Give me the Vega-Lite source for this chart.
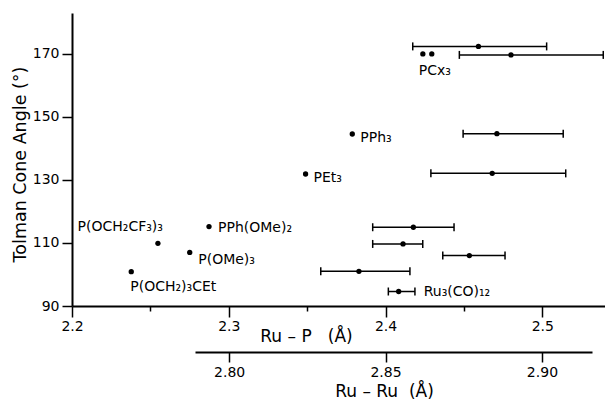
{
  "$schema": "https://vega.github.io/schema/vega-lite/v6.json",
  "width": 533,
  "height": 293,
  "autosize": {"type": "none"},
  "padding": {"left": 72, "top": 13, "right": 0, "bottom": 94},
  "background": "white",
  "config": {
    "view": {"stroke": null},
    "axis": {
      "grid": false,
      "domainColor": "black",
      "domainWidth": 2,
      "tickColor": "black",
      "tickWidth": 1.5,
      "labelColor": "black",
      "titleColor": "black",
      "labelFont": "DejaVu Sans",
      "titleFont": "DejaVu Sans",
      "labelFontSize": 14,
      "titleFontSize": 17,
      "titleFontWeight": "normal"
    },
    "text": {"font": "DejaVu Sans", "fontSize": 14, "color": "black"}
  },
  "datasets": {
    "rup": [
      {"ligand": "PCx3", "label": "PCx₃", "ru_p": 2.4238, "cone_angle": 170},
      {"ligand": "PCx3", "label": "", "ru_p": 2.4295, "cone_angle": 170},
      {"ligand": "PPh3", "label": "PPh₃", "ru_p": 2.3788, "cone_angle": 144.6},
      {"ligand": "PEt3", "label": "PEt₃", "ru_p": 2.349, "cone_angle": 131.9},
      {"ligand": "PPh(OMe)2", "label": "PPh(OMe)₂", "ru_p": 2.2874, "cone_angle": 115.2},
      {"ligand": "P(OCH2CF3)3", "label": "P(OCH₂CF₃)₃", "ru_p": 2.2548, "cone_angle": 109.9},
      {"ligand": "P(OMe)3", "label": "P(OMe)₃", "ru_p": 2.2751, "cone_angle": 107.0},
      {"ligand": "P(OCH2)3CEt", "label": "P(OCH₂)₃CEt", "ru_p": 2.2378, "cone_angle": 100.9}
    ],
    "ruru": [
      {"ligand": "PCx3 (a)", "label": "", "ru_ru": 2.8797, "ru_ru_min": 2.8587, "ru_ru_max": 2.9015, "cone_angle": 172.4},
      {"ligand": "PCx3", "label": "", "ru_ru": 2.8901, "ru_ru_min": 2.8736, "ru_ru_max": 2.9196, "cone_angle": 169.7},
      {"ligand": "PPh3", "label": "", "ru_ru": 2.8856, "ru_ru_min": 2.8748, "ru_ru_max": 2.9068, "cone_angle": 144.7},
      {"ligand": "PEt3", "label": "", "ru_ru": 2.8841, "ru_ru_min": 2.8645, "ru_ru_max": 2.9076, "cone_angle": 132.1},
      {"ligand": "PPh(OMe)2", "label": "", "ru_ru": 2.8589, "ru_ru_min": 2.8459, "ru_ru_max": 2.8719, "cone_angle": 115.0},
      {"ligand": "P(OCH2CF3)3", "label": "", "ru_ru": 2.8556, "ru_ru_min": 2.8459, "ru_ru_max": 2.8619, "cone_angle": 109.7},
      {"ligand": "P(OMe)3", "label": "", "ru_ru": 2.8768, "ru_ru_min": 2.8683, "ru_ru_max": 2.8882, "cone_angle": 106.0},
      {"ligand": "P(OCH2)3CEt", "label": "", "ru_ru": 2.8415, "ru_ru_min": 2.8293, "ru_ru_max": 2.8578, "cone_angle": 101.0},
      {"ligand": "Ru3(CO)12", "label": "Ru₃(CO)₁₂", "ru_ru": 2.8542, "ru_ru_min": 2.8509, "ru_ru_max": 2.8594, "cone_angle": 94.6}
    ]
  },
  "layer": [
    {
      "data": {"name": "rup"},
      "encoding": {
        "x": {
          "field": "ru_p",
          "type": "quantitative",
          "title": "Ru – P\u00a0\u00a0\u00a0(Å)",
          "scale": {"domain": [2.2, 2.54], "nice": false, "zero": false},
          "axis": {
            "values": [2.2, 2.25, 2.3, 2.35, 2.4, 2.45, 2.5],
            "labelExpr": "round(datum.value*100) % 10 == 5 ? '' : format(datum.value, '.1f')",
            "tickSize": {"condition": {"test": "round(datum.value*100) % 10 == 5", "value": 5}, "value": 11},
            "labelPadding": 2,
            "labelFlush": false,
            "titleX": 234,
            "titleY": 35,
            "titleAlign": "center",
            "titleBaseline": "alphabetic"
          }
        },
        "y": {
          "field": "cone_angle",
          "type": "quantitative",
          "title": "Tolman Cone Angle (°)",
          "scale": {"domain": [90, 183], "nice": false, "zero": false},
          "axis": {
            "values": [90, 100, 110, 120, 130, 140, 150, 160, 170],
            "labelExpr": "datum.value % 20 == 0 ? '' : datum.label",
            "tickSize": {"condition": {"test": "datum.value % 20 == 0", "value": 5}, "value": 10},
            "labelPadding": 3,
            "labelFlush": false,
            "titleFontSize": 17.5,
            "titleX": -47,
            "titleY": 151,
            "titleAngle": 270,
            "titleAlign": "center",
            "titleBaseline": "alphabetic"
          }
        }
      },
      "layer": [
        {"mark": {"type": "circle", "size": 28, "opacity": 1, "color": "black"}},
        {
          "transform": [{"filter": "datum.ligand == 'PCx3'"}],
          "mark": {"type": "text", "align": "left", "dx": -4, "dy": 17},
          "encoding": {"text": {"field": "label"}}
        },
        {
          "transform": [{"filter": "datum.ligand == 'PPh3' || datum.ligand == 'PEt3'"}],
          "mark": {"type": "text", "align": "left", "dx": 8, "dy": 4.5},
          "encoding": {"text": {"field": "label"}}
        },
        {
          "transform": [{"filter": "datum.ligand == 'PPh(OMe)2'"}],
          "mark": {"type": "text", "align": "left", "dx": 9, "dy": 1},
          "encoding": {"text": {"field": "label"}}
        },
        {
          "transform": [{"filter": "datum.ligand == 'P(OMe)3'"}],
          "mark": {"type": "text", "align": "left", "dx": 8.5, "dy": 8},
          "encoding": {"text": {"field": "label"}}
        },
        {
          "transform": [{"filter": "datum.ligand == 'P(OCH2CF3)3'"}],
          "mark": {"type": "text", "align": "right", "dx": 5, "dy": -16},
          "encoding": {"text": {"field": "label"}}
        },
        {
          "transform": [{"filter": "datum.ligand == 'P(OCH2)3CEt'"}],
          "mark": {"type": "text", "align": "left", "dx": -1, "dy": 15},
          "encoding": {"text": {"field": "label"}}
        }
      ]
    },
    {
      "data": {"name": "ruru"},
      "encoding": {
        "x": {
          "field": "ru_ru",
          "type": "quantitative",
          "title": "Ru – Ru\u00a0\u00a0(Å)",
          "scale": {"domain": [2.7891, 2.916], "range": [123, 520], "nice": false, "zero": false},
          "axis": {
            "orient": "bottom",
            "offset": 46,
            "values": [2.8, 2.85, 2.9],
            "labelExpr": "format(datum.value, '.2f')",
            "tickSize": 10,
            "labelPadding": 3,
            "labelFlush": false,
            "titleX": 312,
            "titleY": 44,
            "titleAlign": "center",
            "titleBaseline": "alphabetic"
          }
        },
        "y": {"field": "cone_angle", "type": "quantitative", "title": "Tolman Cone Angle (°)"}
      },
      "layer": [
        {
          "mark": {"type": "rule", "strokeWidth": 1.5, "color": "black"},
          "encoding": {
            "x": {"field": "ru_ru_min", "type": "quantitative", "title": "Ru – Ru\u00a0\u00a0(Å)"},
            "x2": {"field": "ru_ru_max"}
          }
        },
        {
          "mark": {"type": "tick", "orient": "vertical", "size": 8, "thickness": 1.5, "color": "black", "opacity": 1},
          "encoding": {"x": {"field": "ru_ru_min", "type": "quantitative", "title": "Ru – Ru\u00a0\u00a0(Å)"}}
        },
        {
          "mark": {"type": "tick", "orient": "vertical", "size": 8, "thickness": 1.5, "color": "black", "opacity": 1},
          "encoding": {"x": {"field": "ru_ru_max", "type": "quantitative", "title": "Ru – Ru\u00a0\u00a0(Å)"}}
        },
        {"mark": {"type": "circle", "size": 28, "opacity": 1, "color": "black"}},
        {
          "transform": [{"filter": "datum.ligand == 'Ru3(CO)12'"}],
          "mark": {"type": "text", "align": "left", "dx": 25, "dy": 0},
          "encoding": {"text": {"field": "label"}}
        }
      ]
    }
  ],
  "resolve": {"scale": {"x": "independent"}, "axis": {"x": "independent"}}
}
